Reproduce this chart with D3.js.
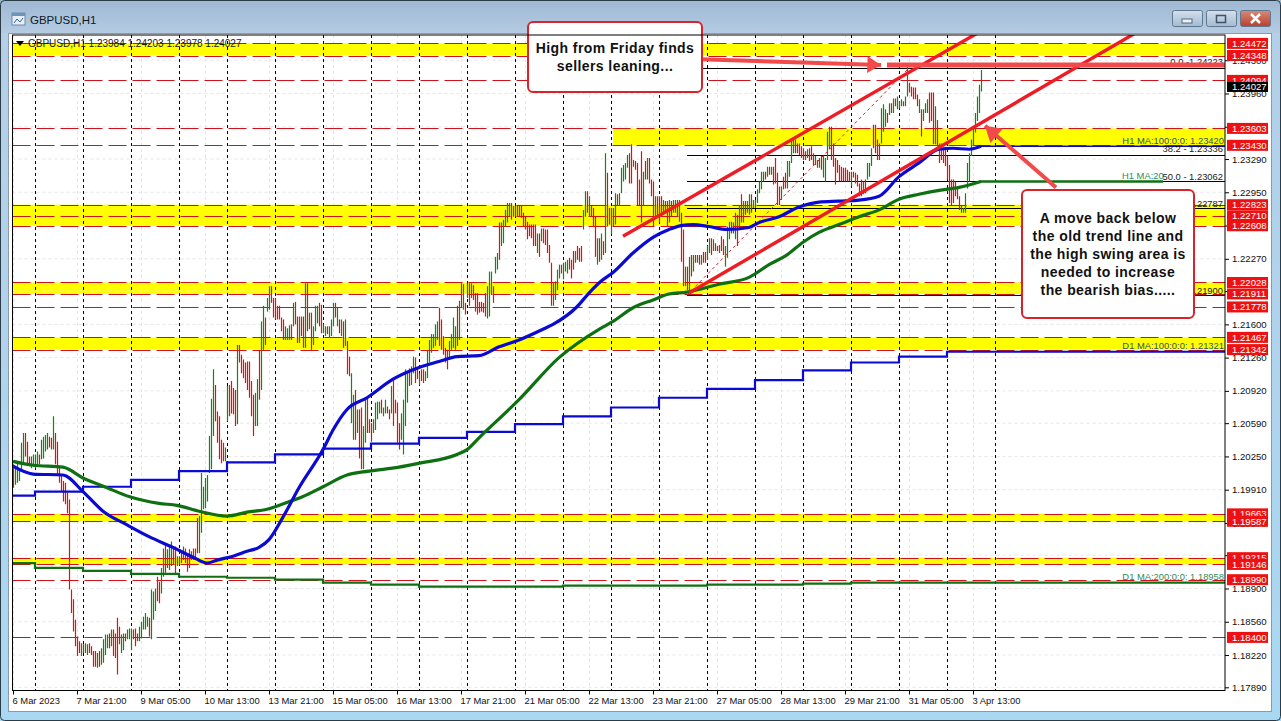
<!DOCTYPE html>
<html>
<head>
<meta charset="utf-8">
<title>GBPUSD,H1</title>
<script src="https://cdn.jsdelivr.net/npm/d3@7"></script>
<style>
  html, body { margin: 0; padding: 0; background: #fff; }
  svg { display: block; }
  text { font-family: "Liberation Sans", Arial, sans-serif; }
</style>
</head>
<body>
<svg id="chart" width="1281" height="721"></svg>
<script>
// hourly bars, in pips (price * 10000), 10 per row
var barHigh = [
  12017,12013,12018,12013,12039,12049,12049,12040,12025,12025,
  12027,12027,12030,12027,12042,12045,12047,12049,12045,12044,
  12066,12049,12040,12015,12006,12000,11998,11988,11981,11889,
  11879,11858,11841,11836,11834,11833,11834,11833,11834,11831,
  11826,11826,11824,11826,11829,11838,11843,11843,11844,11848,
  11848,11844,11860,11851,11843,11844,11844,11848,11849,11849,
  11848,11849,11844,11851,11856,11861,11865,11861,11860,11889,
  11887,11890,11902,11897,11911,11931,11936,11930,11933,11938,
  11933,11933,11923,11923,11928,11933,11931,11926,11930,11928,
  11931,11931,11962,11964,12008,11994,12003,12006,12046,12084,
  12114,12098,12071,12066,12042,12039,12034,12097,12098,12102,
  12095,12093,12139,12139,12129,12124,12121,12122,12122,12102,
  12088,12090,12104,12133,12163,12179,12167,12187,12199,12199,
  12187,12187,12179,12179,12167,12165,12158,12156,12159,12160,
  12182,12183,12168,12168,12168,12168,12202,12202,12172,12172,
  12158,12179,12179,12182,12180,12160,12158,12158,12158,12165,
  12182,12182,12177,12165,12165,12163,12165,12143,12127,12110,
  12088,12093,12073,12073,12075,12056,12085,12085,12063,12059,
  12063,12080,12081,12081,12083,12075,12083,12076,12073,12097,
  12104,12083,12080,12059,12069,12083,12114,12110,12115,12117,
  12127,12126,12115,12110,12114,12114,12112,12134,12144,12150,
  12150,12160,12163,12177,12165,12148,12136,12134,12143,12150,
  12167,12158,12179,12184,12202,12201,12182,12202,12202,12202,
  12200,12192,12192,12183,12183,12182,12192,12199,12214,12214,
  12199,12229,12233,12264,12264,12267,12277,12284,12284,12284,
  12281,12281,12281,12282,12282,12274,12270,12265,12262,12262,
  12262,12262,12253,12253,12258,12258,12257,12257,12241,12223,
  12202,12204,12216,12221,12221,12223,12224,12226,12228,12226,
  12235,12235,12240,12238,12240,12277,12296,12296,12291,12281,
  12279,12270,12248,12248,12253,12245,12335,12315,12279,12279,
  12279,12294,12293,12294,12320,12323,12325,12333,12335,12344,
  12328,12327,12325,12308,12337,12316,12327,12330,12330,12308,
  12306,12291,12291,12291,12291,12287,12286,12286,12287,12286,
  12287,12287,12287,12287,12274,12257,12219,12219,12229,12231,
  12231,12231,12231,12231,12231,12234,12234,12240,12248,12248,
  12247,12243,12240,12241,12250,12247,12240,12260,12265,12265,
  12264,12274,12272,12282,12293,12286,12286,12286,12293,12293,
  12287,12287,12298,12306,12316,12316,12316,12321,12321,12321,
  12321,12330,12315,12301,12301,12311,12315,12327,12327,12349,
  12349,12349,12345,12345,12342,12340,12337,12339,12340,12342,
  12335,12332,12328,12330,12332,12332,12330,12357,12362,12362,
  12345,12330,12328,12323,12321,12320,12320,12318,12316,12316,
  12316,12315,12313,12304,12308,12306,12308,12325,12325,12340,
  12364,12364,12349,12345,12381,12385,12380,12376,12386,12386,
  12391,12391,12393,12388,12390,12388,12393,12423,12407,12403,
  12402,12402,12395,12390,12380,12380,12386,12390,12397,12397,
  12397,12383,12369,12345,12345,12339,12339,12332,12323,12308,
  12308,12306,12301,12291,12281,12279,12294,12325,12335,12349,
  12362,12376,12393,12405,12420
];

var barLow = [
  11993,11996,11998,12000,12010,12018,12025,12017,12015,12013,
  12015,12013,12015,12017,12022,12023,12030,12032,12034,12032,
  12032,12017,12006,11998,11989,11979,11976,11967,11889,11865,
  11846,11831,11821,11824,11821,11824,11824,11822,11824,11822,
  11810,11810,11809,11810,11812,11814,11822,11829,11829,11831,
  11821,11819,11802,11833,11824,11827,11836,11838,11838,11827,
  11838,11831,11836,11836,11839,11848,11848,11851,11841,11838,
  11858,11867,11877,11875,11885,11902,11906,11911,11909,11913,
  11914,11904,11913,11914,11916,11919,11916,11907,11911,11919,
  11919,11919,11926,11926,11947,11971,11972,11979,12008,12012,
  12046,12061,12039,12022,12018,12020,12020,12061,12066,12069,
  12068,12056,12058,12121,12110,12105,12100,12093,12085,12066,
  12046,12056,12056,12083,12093,12134,12139,12173,12175,12182,
  12167,12165,12165,12165,12153,12144,12144,12144,12144,12144,
  12158,12160,12141,12141,12148,12136,12136,12153,12155,12134,
  12139,12153,12161,12158,12151,12151,12148,12150,12146,12148,
  12158,12167,12158,12151,12148,12136,12138,12109,12107,12059,
  12042,12042,12049,12023,12012,12012,12039,12049,12049,12040,
  12049,12052,12063,12069,12069,12066,12069,12069,12063,12069,
  12056,12069,12039,12032,12042,12027,12056,12080,12097,12098,
  12110,12100,12104,12098,12102,12100,12102,12105,12121,12131,
  12136,12138,12144,12138,12134,12129,12121,12114,12124,12134,
  12136,12134,12138,12144,12177,12175,12170,12187,12179,12187,
  12185,12173,12170,12172,12173,12172,12168,12166,12168,12190,
  12182,12212,12216,12226,12240,12243,12260,12264,12270,12267,
  12270,12270,12270,12270,12269,12260,12257,12247,12250,12248,
  12240,12240,12233,12229,12245,12243,12241,12233,12223,12179,
  12179,12185,12195,12207,12212,12206,12214,12212,12216,12207,
  12216,12223,12226,12224,12224,12257,12270,12274,12270,12270,
  12260,12229,12221,12224,12226,12231,12233,12260,12262,12252,
  12260,12262,12282,12281,12294,12306,12308,12320,12304,12304,
  12321,12318,12282,12282,12264,12282,12308,12308,12304,12291,
  12260,12270,12270,12264,12274,12274,12274,12260,12264,12270,
  12274,12274,12270,12265,12224,12199,12199,12195,12194,12209,
  12214,12223,12223,12221,12221,12223,12223,12226,12233,12231,
  12235,12235,12235,12233,12235,12231,12219,12228,12247,12253,
  12253,12247,12240,12257,12264,12264,12272,12274,12272,12274,
  12279,12279,12284,12294,12298,12306,12308,12311,12313,12313,
  12303,12304,12282,12282,12287,12298,12299,12299,12311,12325,
  12335,12335,12335,12333,12330,12328,12328,12330,12327,12328,
  12323,12323,12320,12320,12318,12310,12306,12328,12339,12328,
  12321,12303,12315,12306,12306,12306,12306,12306,12306,12301,
  12310,12304,12301,12291,12291,12293,12294,12308,12311,12322,
  12340,12335,12328,12328,12345,12357,12362,12366,12374,12376,
  12376,12383,12380,12381,12383,12383,12383,12393,12397,12393,
  12390,12390,12383,12376,12352,12368,12376,12376,12366,12368,
  12344,12344,12342,12325,12328,12325,12322,12308,12284,12282,
  12284,12291,12288,12277,12274,12274,12274,12299,12306,12332,
  12342,12356,12368,12376,12398
];

// u = up bar, d = down bar
var barDir = [
  "duuuuudddu", "uuuduuuudd", "uddddddddd", "dddduduudd", "dduduuuudu",
  "dddduuduuu", "ddduuuuudu", "uudduuduuu", "dduududddu", "ddduuuuuuu",
  "uddddduudd", "dduddddddd", "duuduuduud", "dddddduuud", "udduddudud",
  "uuudduuduu", "ududududdu", "ududduuddd", "uuuuduuddu", "dddduuuudu",
  "uddudduuuu", "uuuddddduu", "uududududu", "ddddddduuu", "duuduuuuud",
  "ududdddddd", "ddududdddd", "uuuuduuudd", "duddduudud", "ddudududdu",
  "duduuuuudd", "uddddududd", "duddduddud", "uududdudud", "udududduud",
  "uddudduuud", "uudududuud", "uuuuuududu", "ddddudduuu", "uddddddudd",
  "dududuuuud", "dddddddddu", "ddddduduuu", "dddduuudud", "uduuuduudd",
  "ddduduuudd", "dudddddddd", "dddduuuuuu", "uuuuu"
].join("");

// moving averages: bar index and value in pips
var h1Ma100Bar = [0,10,25,35,45,57,68,80,90,97,102,110,117,123,128,135,143,155,160,167,177,190,203,213,222,233,243,253,265,270,282,288,294,300,310,320,328,334,340,348,357,368,373,383,393,403,413,423,433,443,453,463,470,478,484];
var h1Ma100Val = [12015,12007,12006,11989,11969,11955,11943,11932,11922,11916,11919,11923,11928,11932,11940,11963,11993,12032,12052,12073,12085,12104,12116,12122,12127,12128,12137,12144,12155,12160,12178,12192,12204,12213,12233,12249,12257,12261,12262,12260,12257,12259,12264,12270,12280,12285,12286,12287,12291,12311,12325,12339,12340,12339,12342];
var h1Ma200Bar = [0,10,25,35,47,58,73,82,93,107,117,127,137,145,155,167,178,193,203,222,227,233,253,273,293,300,310,320,328,337,353,368,378,387,395,403,413,423,433,443,453,463,473,484];
var h1Ma200Val = [12020,12016,12014,12003,11993,11984,11977,11975,11969,11964,11968,11971,11978,11984,11994,12006,12010,12014,12018,12027,12032,12044,12083,12126,12155,12163,12177,12185,12191,12193,12201,12208,12221,12231,12244,12254,12262,12270,12277,12288,12293,12297,12300,12306];
var d1Ma100Bar = [0,11,35,59,83,107,131,155,179,203,227,251,275,299,323,347,371,395,419,443,467];
var d1Ma100Val = [11985,11989,11994,12001,12010,12019,12027,12033,12038,12044,12050,12058,12066,12075,12085,12094,12103,12113,12121,12127,12132];
var d1Ma200Bar = [0,11,35,59,83,107,131,155,179,203,275,347,395,419,467];
var d1Ma200Val = [11916,11911,11908,11905,11902,11901,11899,11896,11894,11892,11893,11894,11895,11896,11896];

// horizontal levels
var levelPrices = [1.24472,1.24348,1.24094,1.23603,1.23430,1.22823,1.22710,1.22608,1.22028,1.21911,1.21778,1.21467,1.21342,1.19663,1.19587,1.19215,1.19146,1.18990,1.18400];
var bandTops    = [1.24472,1.23603,1.22823,1.22028,1.21467,1.19663,1.19215];
var bandBottoms = [1.24348,1.23430,1.22608,1.21911,1.21342,1.19587,1.19146];
var bandStarts  = [0,300,0,0,0,0,0];

var fibPrices = [1.24223,1.23336,1.23062,1.22787,1.21900];
var fibLabels = ["0.0 -1.24223","38.2 - 1.23336","50.0 - 1.23062","61.8 - 1.22787","100.0 - 1.21900"];

var priceTicks = [1.17890,1.18220,1.18560,1.18900,1.19240,1.19570,1.19910,1.20250,1.20590,1.20920,1.21260,1.21600,1.21940,1.22270,1.22610,1.22950,1.23290,1.23620,1.23960,1.24300];
var timeLabels = ["6 Mar 2023","7 Mar 21:00","9 Mar 05:00","10 Mar 13:00","13 Mar 21:00","15 Mar 05:00","16 Mar 13:00","17 Mar 21:00","21 Mar 05:00","22 Mar 13:00","23 Mar 21:00","27 Mar 05:00","28 Mar 13:00","29 Mar 21:00","31 Mar 05:00","3 Apr 13:00"];

// trend lines and arrows: bar index, pips
var upperTrend = [[305,12250],[520,12502]];
var lowerTrend = [[338,12192],[600,12504]];
var fridayArrow = [[343.5,12431],[434,12425]];
var fridayLine = [[437,12425],[606,12425]];
var swingArrow = [[521.5,12300],[486,12363]];
var fibDiagonal = [[337,12190],[448,12422]];

var note1 = ["High from Friday finds","sellers leaning..."];
var note2 = ["A move back below","the old trend line and","the high swing area is","needed to increase","the bearish bias....."];

var left = 12.5, right = 1225, top_ = 35, bottom = 690.5;

var svg = d3.select("#chart");
var defs = svg.append("defs");

var x = d3.scaleLinear().domain([0,484]).range([13,981]);
var y = d3.scaleLinear().domain([1.1789,1.24472]).range([687.3,43.4]);
var yp = function (pips) { return y(pips / 10000); };

var grad = defs.append("linearGradient").attr("id","titleGrad").attr("x1",0).attr("x2",0).attr("y1",0).attr("y2",1);
grad.append("stop").attr("offset","0").attr("stop-color","#9fb8d2");
grad.append("stop").attr("offset","1").attr("stop-color","#b4cbe2");
var side = defs.append("linearGradient").attr("id","sideGrad").attr("x1",0).attr("x2",0).attr("y1",0).attr("y2",1);
side.append("stop").attr("offset","0").attr("stop-color","#b5cfe8");
side.append("stop").attr("offset","1").attr("stop-color","#a9d8f2");
var closeGrad = defs.append("linearGradient").attr("id","closeGrad").attr("x1",0).attr("x2",0).attr("y1",0).attr("y2",1);
closeGrad.append("stop").attr("offset","0").attr("stop-color","#d98a78");
closeGrad.append("stop").attr("offset","1").attr("stop-color","#b8402c");
var btnGrad = defs.append("linearGradient").attr("id","btnGrad").attr("x1",0).attr("x2",0).attr("y1",0).attr("y2",1);
btnGrad.append("stop").attr("offset","0").attr("stop-color","#d4e0ec");
btnGrad.append("stop").attr("offset","1").attr("stop-color","#a4bad2");

defs.append("clipPath").attr("id","plot").append("rect")
  .attr("x",left).attr("y",top_).attr("width",right-left).attr("height",bottom-top_);

// window frame
svg.append("rect").attr("width",1281).attr("height",721).attr("fill","url(#sideGrad)");
svg.append("rect").attr("width",1281).attr("height",33).attr("fill","url(#titleGrad)");
svg.append("rect").attr("x",0.5).attr("y",0.5).attr("width",1280).attr("height",720).attr("rx",4)
  .attr("fill","none").attr("stroke","#2c3b46");
svg.append("rect").attr("x",8.5).attr("y",33.5).attr("width",1263).attr("height",678).attr("fill","#fff").attr("stroke","#8d99a6");

// title icon and text
var icon = svg.append("g");
icon.append("rect").attr("x",12).attr("y",13).attr("width",13).attr("height",12).attr("fill","#e8eef5").attr("stroke","#6d8aa8");
icon.append("rect").attr("x",12).attr("y",13).attr("width",13).attr("height",3).attr("fill","#6f93bb");
icon.append("path").attr("d","M14 23l3-4 3 3 3-4").attr("fill","none").attr("stroke","#3a6a9a");
svg.append("text").attr("x",30).attr("y",24).attr("font-size",11.5).attr("fill","#0e1a26").text("GBPUSD,H1");

// window buttons
[[1172,"url(#btnGrad)"],[1206,"url(#btnGrad)"],[1240,"url(#closeGrad)"]].forEach(function (b) {
  svg.append("rect").attr("x",b[0]+0.5).attr("y",10.5).attr("width",30).attr("height",16).attr("rx",2)
    .attr("fill",b[1]).attr("stroke","#5f7890");
});
svg.append("rect").attr("x",1182).attr("y",19).attr("width",10).attr("height",4).attr("fill","#eef3f8").attr("stroke","#52687e");
svg.append("rect").attr("x",1216.5).attr("y",15.5).attr("width",9).attr("height",7).attr("fill","none").attr("stroke","#3f5266").attr("stroke-width",1.5);
svg.append("path").attr("d","M1251 14l9 9M1260 14l-9 9").attr("stroke","#fff").attr("stroke-width",2.5);

var plot = svg.append("g").attr("clip-path","url(#plot)");

// yellow zones
plot.selectAll("rect.band").data(bandTops).join("rect").attr("class","band")
  .attr("x",function (d,i) { return bandStarts[i] ? x(bandStarts[i]) : left; })
  .attr("y",function (d) { return y(d); })
  .attr("width",function (d,i) { return right - (bandStarts[i] ? x(bandStarts[i]) : left); })
  .attr("height",function (d,i) { return y(bandBottoms[i]) - y(d); })
  .attr("fill","#ffff00");

// faint grid
plot.selectAll("line.gy").data(priceTicks).join("line").attr("class","gy")
  .attr("x1",left).attr("x2",right)
  .attr("y1",function (d) { return y(d); }).attr("y2",function (d) { return y(d); })
  .attr("stroke","#e6e6e6").attr("stroke-dasharray","3,3");
plot.selectAll("line.gx").data(timeLabels).join("line").attr("class","gx")
  .attr("x1",function (d,i) { return x(i*32)+0.5; }).attr("x2",function (d,i) { return x(i*32)+0.5; })
  .attr("y1",top_).attr("y2",bottom)
  .attr("stroke","#e6e6e6").attr("stroke-dasharray","3,3");

// day separators
plot.selectAll("line.day").data(d3.range(21)).join("line").attr("class","day")
  .attr("x1",function (d) { return Math.round(x(11+24*d))+0.5; }).attr("x2",function (d) { return Math.round(x(11+24*d))+0.5; })
  .attr("y1",top_).attr("y2",bottom)
  .attr("stroke","#000").attr("stroke-dasharray","3,3");

// dashed levels
plot.selectAll("line.level").data(levelPrices).join("line").attr("class","level")
  .attr("x1",left).attr("x2",right)
  .attr("y1",function (d) { return Math.round(y(d))+0.5; }).attr("y2",function (d) { return Math.round(y(d))+0.5; })
  .attr("stroke","#d0101a").attr("stroke-dasharray","18,6");

// fib retracement lines
plot.selectAll("line.fib").data(fibPrices).join("line").attr("class","fib")
  .attr("x1",x(337)).attr("x2",right)
  .attr("y1",function (d) { return Math.round(y(d))+0.5; }).attr("y2",function (d) { return Math.round(y(d))+0.5; })
  .attr("stroke","#000");

var line = d3.line().x(function (d) { return x(d[0]); }).y(function (d) { return yp(d[1]); });
var maLine = d3.line().curve(d3.curveMonotoneX).x(function (d) { return x(d[0]); }).y(function (d) { return yp(d[1]); });

plot.append("path").attr("d",line(fibDiagonal)).attr("fill","none")
  .attr("stroke","#d8232a").attr("stroke-dasharray","3,3");

// bars
plot.selectAll("line.bar").data(barHigh).join("line").attr("class","bar")
  .attr("x1",function (d,i) { return x(i)+0.5; }).attr("x2",function (d,i) { return x(i)+0.5; })
  .attr("y1",function (d) { return yp(d); })
  .attr("y2",function (d,i) { return yp(barLow[i]); })
  .attr("stroke",function (d,i) { return barDir[i] == "u" ? "#0b8a0b" : "#e80c0c"; })
  .attr("stroke-width",1.2);

// moving averages
var zip = function (a, b) { return a.map(function (d,i) { return [d, b[i]]; }); };
var stepLine = d3.line().curve(d3.curveStepAfter).x(function (d) { return x(d[0]); }).y(function (d) { return yp(d[1]); });

var drawStep = function (bars, vals, color, width) {
  var pts = zip(bars, vals);
  pts.push([606, vals[vals.length-1]]);
  plot.append("path").attr("d",stepLine(pts)).attr("fill","none").attr("stroke",color).attr("stroke-width",width);
};
drawStep(d1Ma100Bar, d1Ma100Val, "#0a0ad2", 2.2);
drawStep(d1Ma200Bar, d1Ma200Val, "#0f7012", 2.2);

plot.append("path").attr("d",line([[484,12342],[606,12342]])).attr("fill","none").attr("stroke","#0a0ad2").attr("stroke-width",1.5);
plot.append("path").attr("d",line([[483,12306],[575,12306]])).attr("fill","none").attr("stroke","#0f7012").attr("stroke-width",2.5);
plot.append("path").attr("d",maLine(zip(h1Ma200Bar,h1Ma200Val))).attr("fill","none").attr("stroke","#0f7012").attr("stroke-width",3.2).attr("stroke-linejoin","round");
plot.append("path").attr("d",maLine(zip(h1Ma100Bar,h1Ma100Val))).attr("fill","none").attr("stroke","#0a0ad2").attr("stroke-width",3.2).attr("stroke-linejoin","round");

// labels on the chart
var inchart = svg.append("g").attr("font-size",9.4);
inchart.selectAll("text.fib").data(fibLabels).join("text").attr("class","fib")
  .attr("x",1223).attr("text-anchor","end").attr("fill","#1a1a1a")
  .attr("y",function (d,i) { return [65,152,179.5,206.5,293.5][i]; })
  .text(function (d) { return d; });
inchart.append("text").attr("x",1224).attr("y",144).attr("text-anchor","end").attr("fill","#2f5560").text("H1 MA:100:0:0: 1.23420");
inchart.append("text").attr("x",1122).attr("y",178.5).attr("fill","#2e8b57").text("H1 MA:20");
inchart.append("text").attr("x",1224).attr("y",349).attr("text-anchor","end").attr("fill","#2f5560").text("D1 MA:100:0:0: 1.21321");
inchart.append("text").attr("x",1224).attr("y",580).attr("text-anchor","end").attr("fill","#2e8b57").text("D1 MA:200:0:0: 1.18958");
inchart.append("path").attr("d","M16 41h8l-4 5z").attr("fill","#000");
inchart.append("text").attr("x",28).attr("y",47).attr("font-size",10).attr("fill","#1a1a1a").text("GBPUSD,H1  1.23984 1.24203 1.23978 1.24027");

// red trend lines
[upperTrend, lowerTrend].forEach(function (t) {
  plot.append("path").attr("d",line(t)).attr("fill","none").attr("stroke","#ee1c25").attr("stroke-width",3.4);
});

// thick annotation arrows
var arrowHead = function (pts, size) {
  var a = [x(pts[0][0]), yp(pts[0][1])], b = [x(pts[1][0]), yp(pts[1][1])];
  var ang = Math.atan2(b[1]-a[1], b[0]-a[0]);
  var p = function (r, t) { return [b[0]-r*Math.cos(ang+t), b[1]-r*Math.sin(ang+t)]; };
  return [b, p(size,0.55), p(size,-0.55)].join(" ");
};
var arrowRed = "#f2494a";
svg.append("path").attr("d",line(fridayArrow)).attr("stroke",arrowRed).attr("stroke-width",4).attr("fill","none");
svg.append("polygon").attr("points",arrowHead(fridayArrow,16)).attr("fill",arrowRed);
svg.append("path").attr("d",line(fridayLine)).attr("stroke",arrowRed).attr("stroke-width",5).attr("fill","none");
svg.append("path").attr("d",line(swingArrow)).attr("stroke",arrowRed).attr("stroke-width",4).attr("fill","none");
svg.append("polygon").attr("points",arrowHead(swingArrow,18)).attr("fill",arrowRed);

// callouts
var callout = function (bx, by, bw, bh, lines, firstY, step) {
  svg.append("rect").attr("x",bx).attr("y",by).attr("width",bw).attr("height",bh).attr("rx",5)
    .attr("fill","#fff").attr("stroke","#d9232a").attr("stroke-width",2);
  svg.selectAll(null).data(lines).join("text")
    .attr("x",bx+bw/2).attr("y",function (d,i) { return firstY + i*step; })
    .attr("text-anchor","middle").attr("font-size",14).attr("font-weight","bold").attr("fill","#111")
    .attr("letter-spacing",0.42)
    .text(function (d) { return d; });
};
callout(528, 22, 174, 70, note1, 53, 18);
callout(1022, 190, 172, 128, note2, 223, 18);

// axes
var axisY = d3.axisRight(y).tickValues(priceTicks).tickSize(4).tickPadding(3).tickFormat(d3.format(".5f"));
var axY = svg.append("g").attr("transform","translate("+right+",0)").call(axisY);
var axisX = d3.axisBottom(x).tickValues(d3.range(timeLabels.length).map(function (d) { return d*32; }))
  .tickSize(4).tickPadding(3).tickFormat(function (d,i) { return timeLabels[i]; });
var axX = svg.append("g").attr("transform","translate(0,"+bottom+")").call(axisX);
axX.selectAll("text").attr("text-anchor","start").attr("dx",-1).attr("font-size",9.4).attr("font-family","Liberation Sans").attr("fill","#111");
axY.selectAll("text").attr("font-size",9.6).attr("font-family","Liberation Sans").attr("fill","#111");
axX.selectAll("path,line").attr("stroke","#000");
axY.selectAll("path,line").attr("stroke","#000");
axX.select("path").remove();
axY.select("path").remove();

svg.append("rect").attr("x",left).attr("y",top_).attr("width",right-left).attr("height",bottom-top_)
  .attr("fill","none").attr("stroke","#000");

// price tags, the lower level always sits on top as in the terminal
var tags = svg.append("g").attr("font-size",9.6);
levelPrices.forEach(function (p) {
  tags.append("rect").attr("x",1227).attr("y",y(p)-5.5).attr("width",41).attr("height",11).attr("fill","#ee1111");
  tags.append("text").attr("x",1232).attr("y",y(p)+3.5).attr("fill","#fff").text(p.toFixed(5));
});
tags.append("rect").attr("x",1227).attr("y",y(1.24027)-5).attr("width",41).attr("height",10).attr("fill","#000");
tags.append("text").attr("x",1232).attr("y",y(1.24027)+3.5).attr("fill","#fff").text("1.24027");
</script>
</body>
</html>
